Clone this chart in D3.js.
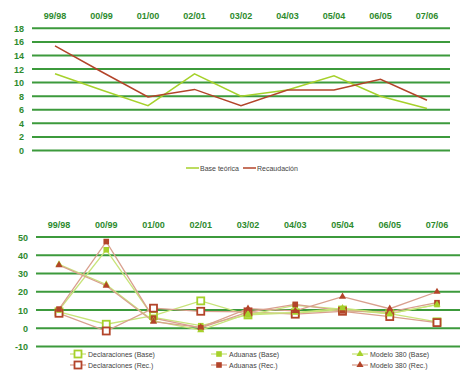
<!DOCTYPE html>
<html>
<head>
<meta charset="utf-8">
<script src="https://cdn.jsdelivr.net/npm/d3@7"></script>
<style>
  body { margin: 0; background: #fff; }
  svg { display: block; font-family: Arial, "Liberation Sans", sans-serif; }
  .cat { font-size: 9px; font-weight: bold; fill: #2e8b2e; }
  .ytick { font-size: 9px; font-weight: bold; fill: #2e8b2e; }
  .leg { font-size: 7px; fill: #444; }
</style>
</head>
<body>
<div id="chart"></div>
<script>
//data
var periods = ['99/98', '00/99', '01/00', '02/01', '03/02', '04/03', '05/04', '06/05', '07/06'];

var baseTeorica = [11.3, 8.9, 6.6, 11.3, 8.0, 8.9, 11.0, 8.0, 6.2];
var recaudacion = [15.4, 11.6, 7.9, 9.0, 6.6, 8.9, 8.9, 10.5, 7.4];

var declBase = [9, 2.2, 6.9, 15, 7.3, 8.5, 10, 8, 3.5];
var declRec = [8.2, -1.5, 11, 9.3, 9, 7.7, 9.3, 6.4, 3.1];
var aduBase = [10, 43, 6, 1.4, 7.3, 12.5, 10.5, 8, 13];
var aduRec = [10.5, 47.5, 5.5, 0.2, 8.8, 13.1, 9.5, 9, 14];
var modBase = [35, 24, 4, -1, 8, 8.5, 11, 8, 13];
var modRec = [34.6, 23.3, 3.6, 0.5, 10.7, 9.5, 17.3, 10.7, 20];

var topTicks = [0, 2, 4, 6, 8, 10, 12, 14, 16, 18];
var bottomTicks = [-10, 0, 10, 20, 30, 40, 50];

//colors
var green = '#a6d12b',
    brown = '#b3442a',
    lightGreen = '#c8e47a',
    lightBrown = '#d9a08e',
    gridColor = '#3c9a3c';

var svg = d3.select('#chart').append('svg')
    .attr('width', 472)
    .attr('height', 382);

//top chart
var topX = d3.scalePoint().domain(periods).range([55, 427]);
var topY = d3.scaleLinear().domain([0, 18]).range([150.5, 28.3]);

var topG = svg.append('g');

topG.selectAll('.grid')
    .data(topTicks).enter().append('line')
    .attr('x1', 32).attr('x2', 450)
    .attr('y1', function(d) { return topY(d); })
    .attr('y2', function(d) { return topY(d); })
    .attr('stroke', gridColor)
    .attr('stroke-width', 2);

topG.selectAll('.ytick')
    .data(topTicks).enter().append('text')
    .attr('class', 'ytick')
    .attr('x', 24)
    .attr('y', function(d) { return topY(d) + 3.5; })
    .attr('text-anchor', 'end')
    .text(function(d) { return d; });

topG.selectAll('.cat')
    .data(periods).enter().append('text')
    .attr('class', 'cat')
    .attr('x', function(d) { return topX(d); })
    .attr('y', 19)
    .attr('text-anchor', 'middle')
    .text(function(d) { return d; });

var topLine = d3.line()
    .x(function(d, i) { return topX(periods[i]); })
    .y(function(d) { return topY(d); });

topG.append('path').datum(baseTeorica)
    .attr('d', topLine)
    .attr('fill', 'none')
    .attr('stroke', green)
    .attr('stroke-width', 1.5);

topG.append('path').datum(recaudacion)
    .attr('d', topLine)
    .attr('fill', 'none')
    .attr('stroke', brown)
    .attr('stroke-width', 1.5);

var topLegend = [
    {name: 'Base teórica', color: green, x: 186},
    {name: 'Recaudación', color: brown, x: 243}
];

topLegend.forEach(function(d) {
    topG.append('line')
        .attr('x1', d.x).attr('x2', d.x + 13)
        .attr('y1', 168).attr('y2', 168)
        .attr('stroke', d.color).attr('stroke-width', 1.5);
    topG.append('text')
        .attr('class', 'leg')
        .attr('x', d.x + 14)
        .attr('y', 170.5)
        .text(d.name);
});

//bottom chart
var botX = d3.scalePoint().domain(periods).range([59, 437]);
var botY = d3.scaleLinear().domain([-10, 50]).range([346.5, 237]);

var botG = svg.append('g');

botG.selectAll('.grid')
    .data(bottomTicks).enter().append('line')
    .attr('x1', 36).attr('x2', 460)
    .attr('y1', function(d) { return botY(d); })
    .attr('y2', function(d) { return botY(d); })
    .attr('stroke', gridColor)
    .attr('stroke-width', 2);

botG.selectAll('.ytick')
    .data(bottomTicks).enter().append('text')
    .attr('class', 'ytick')
    .attr('x', 28)
    .attr('y', function(d) { return botY(d) + 3.5; })
    .attr('text-anchor', 'end')
    .text(function(d) { return d; });

botG.selectAll('.cat')
    .data(periods).enter().append('text')
    .attr('class', 'cat')
    .attr('x', function(d) { return botX(d); })
    .attr('y', 228)
    .attr('text-anchor', 'middle')
    .text(function(d) { return d; });

var botLine = d3.line()
    .x(function(d, i) { return botX(periods[i]); })
    .y(function(d) { return botY(d); });

var series = [
    {name: 'Declaraciones (Base)', values: declBase, line: lightGreen, mark: green, shape: 'openSquare', col: 0, row: 0},
    {name: 'Declaraciones (Rec.)', values: declRec, line: lightBrown, mark: brown, shape: 'openSquare', col: 0, row: 1},
    {name: 'Aduanas (Base)', values: aduBase, line: lightGreen, mark: green, shape: 'square', col: 1, row: 0},
    {name: 'Aduanas (Rec.)', values: aduRec, line: lightBrown, mark: brown, shape: 'square', col: 1, row: 1},
    {name: 'Modelo 380 (Base)', values: modBase, line: lightGreen, mark: green, shape: 'triangle', col: 2, row: 0},
    {name: 'Modelo 380 (Rec.)', values: modRec, line: lightBrown, mark: brown, shape: 'triangle', col: 2, row: 1}
];

function drawMarker(g, shape, color, x, y) {
    if (shape == 'openSquare') {
        g.append('rect')
            .attr('x', x - 3.5).attr('y', y - 3.5)
            .attr('width', 7).attr('height', 7)
            .attr('fill', '#fff')
            .attr('stroke', color)
            .attr('stroke-width', 1.8);
    } else if (shape == 'square') {
        g.append('rect')
            .attr('x', x - 2.8).attr('y', y - 2.8)
            .attr('width', 5.6).attr('height', 5.6)
            .attr('fill', color);
    } else {
        g.append('path')
            .attr('d', d3.symbol().type(d3.symbolTriangle).size(22)())
            .attr('transform', 'translate(' + x + ',' + y + ')')
            .attr('fill', color);
    }
}

series.forEach(function(s) {
    botG.append('path').datum(s.values)
        .attr('d', botLine)
        .attr('fill', 'none')
        .attr('stroke', s.line)
        .attr('stroke-width', 1.3);
});

series.forEach(function(s) {
    s.values.forEach(function(v, i) {
        drawMarker(botG, s.shape, s.mark, botX(periods[i]), botY(v));
    });
});

//bottom legend
var legCols = [70, 211, 352],
    legRows = [354, 365];

series.forEach(function(s) {
    var lx = legCols[s.col],
        ly = legRows[s.row];
    botG.append('line')
        .attr('x1', lx).attr('x2', lx + 16)
        .attr('y1', ly).attr('y2', ly)
        .attr('stroke', s.line).attr('stroke-width', 1.3);
    drawMarker(botG, s.shape, s.mark, lx + 8, ly);
    botG.append('text')
        .attr('class', 'leg')
        .attr('x', lx + 18)
        .attr('y', ly + 2.5)
        .text(s.name);
});
</script>
</body>
</html>
